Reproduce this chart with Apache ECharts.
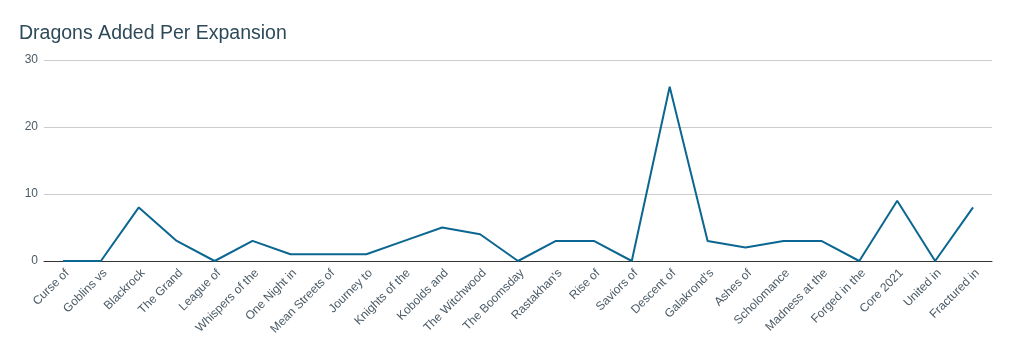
<!DOCTYPE html>
<html><head><meta charset="utf-8">
<script src="https://cdn.jsdelivr.net/npm/echarts@6/dist/echarts.min.js"></script>
<style>html,body{margin:0;padding:0;background:#fff}#c{width:1010px;height:356px}</style>
</head><body><div id="c"></div>
<script>
const categories = ["Curse of","Goblins vs","Blackrock","The Grand","League of","Whispers of the","One Night in","Mean Streets of","Journey to","Knights of the","Kobolds and","The Witchwood","The Boomsday","Rastakhan's","Rise of","Saviors of","Descent of","Galakrond's","Ashes of","Scholomance","Madness at the","Forged in the","Core 2021","United in","Fractured in"];
const dragons = [0,0,8,3,0,3,1,1,1,3,5,4,0,3,3,0,26,3,2,3,3,0,9,0,8];
const title = "Dragons Added Per Expansion";
const FONT = "'Liberation Sans', Arial, sans-serif";

const chart = echarts.init(document.getElementById('c'), null, {renderer:'canvas'});
chart.setOption({
  animation:false,
  backgroundColor:'#fff',
  title:{text:title,left:14,top:19,textStyle:{fontFamily:FONT,fontSize:19.5,fontWeight:'normal',color:'#2e4a59'}},
  grid:{left:44,right:18,top:60,bottom:95,containLabel:false},
  xAxis:{type:'category',data:categories,boundaryGap:true,
    axisLine:{lineStyle:{color:'#333',width:1}},axisTick:{show:false},
    axisLabel:{rotate:45,interval:0,fontFamily:FONT,fontSize:12,color:'#4a5a66',margin:6,verticalAlign:'top'}},
  yAxis:{type:'value',min:0,max:30,interval:10,
    axisLine:{show:false},axisTick:{show:false},
    splitLine:{lineStyle:{color:'#cccccc'}},
    axisLabel:{fontFamily:FONT,fontSize:12,color:'#4a5a66',margin:6}},
  series:[{type:'line',data:dragons,symbol:'none',lineStyle:{color:'#0b6791',width:2}}]
});
</script></body></html>
